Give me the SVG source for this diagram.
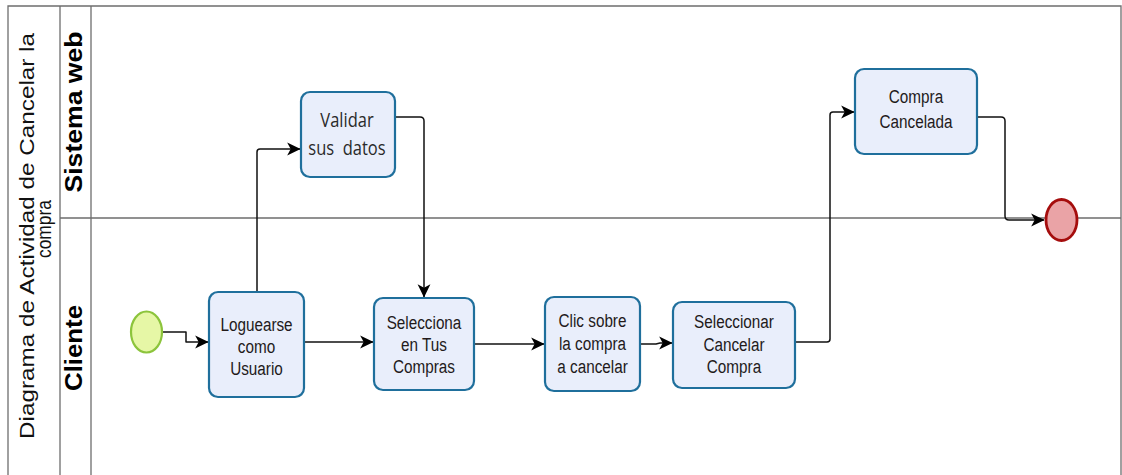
<svg xmlns="http://www.w3.org/2000/svg" width="1122" height="475" viewBox="0 0 1122 475">
<style>
.frame{fill:none;stroke:#6e6e6e;stroke-width:1.3}
.task{fill:#e9eefb;stroke:#1f6f9c;stroke-width:2.2}
.lbl{font-family:"Liberation Sans",Arial,sans-serif;font-size:15.3px;fill:#231a1a;text-anchor:middle}
.lbl2{font-family:"Open Sans","Liberation Sans",sans-serif;font-size:16.5px;fill:#2a2a2a;text-anchor:middle}
.lane{font-family:"Liberation Sans",Arial,sans-serif;font-weight:bold;font-size:24px;fill:#000;text-anchor:middle}
.title{font-family:"Liberation Sans",Arial,sans-serif;font-size:21px;fill:#111;text-anchor:middle}
.conn{fill:none;stroke:#111;stroke-width:1.5;stroke-linejoin:round}
</style>
<defs>
<marker id="arr" markerUnits="userSpaceOnUse" markerWidth="14" markerHeight="14" viewBox="0 0 12 12" refX="11" refY="6" orient="auto">
<path d="M0,0.5 L11.5,6 L0,11.5 L3,6 z" fill="#000"/>
</marker>
</defs>
<rect width="1122" height="475" fill="#fff"/>
<g id="pool">
<path class="frame" d="M8,476 V6 H1121 V476"/>
<path class="frame" d="M60,6 V476 M91,6 V476 M60,218 H1121"/>
<text class="title" transform="translate(34,236) rotate(-90)" textLength="406" lengthAdjust="spacingAndGlyphs">Diagrama de Actividad de Cancelar la</text>
<text class="title" transform="translate(51,229) rotate(-90)" textLength="58" lengthAdjust="spacingAndGlyphs">compra</text>
<text class="lane" transform="translate(82,112) rotate(-90)" textLength="161" lengthAdjust="spacingAndGlyphs">Sistema web</text>
<text class="lane" transform="translate(82,348) rotate(-90)" textLength="86" lengthAdjust="spacingAndGlyphs">Cliente</text>
</g>
<g id="connectors">
<path class="conn" d="M162,332 H186 V342 H208" marker-end="url(#arr)"/>
<path class="conn" d="M257,292 V152 Q257,149 260,149 H300" marker-end="url(#arr)"/>
<path class="conn" d="M395,117 H420 Q424,117 424,121 V297" marker-end="url(#arr)"/>
<path class="conn" d="M304,342 H373" marker-end="url(#arr)"/>
<path class="conn" d="M474,344 H544" marker-end="url(#arr)"/>
<path class="conn" d="M640,344 H656 L660,343 H672" marker-end="url(#arr)"/>
<path class="conn" d="M795,342 H827 Q830,342 830,339 V115 Q830,112 833,112 H854" marker-end="url(#arr)"/>
<path class="conn" d="M977,117 H1001 Q1005,117 1005,121 V216 Q1005,220 1009,220 H1044" marker-end="url(#arr)"/>
</g>
<g id="start"><ellipse cx="146.5" cy="332" rx="15.5" ry="20.5" fill="#e6f7a6" stroke="#8cc43c" stroke-width="2.2"/></g>
<g id="end"><ellipse cx="1061.5" cy="220" rx="15.5" ry="20.5" fill="#eaa3a6" stroke="#a50d0d" stroke-width="2.8"/></g>
<g id="loguearse">
<rect class="task" x="209" y="292" width="95" height="105" rx="9"/>
<text class="lbl" transform="translate(256.5 331) scale(1 1.2)">Loguearse</text>
<text class="lbl" transform="translate(256.5 353) scale(1 1.2)">como</text>
<text class="lbl" transform="translate(256.5 375) scale(1 1.2)">Usuario</text>
</g>
<g id="validar">
<rect class="task" x="301" y="92" width="94" height="85" rx="9"/>
<text class="lbl2" transform="translate(347 127) scale(1 1.25)">Validar</text>
<text class="lbl2" transform="translate(347 155) scale(1 1.25)" xml:space="preserve">sus  datos</text>
</g>
<g id="selecciona">
<rect class="task" x="374" y="298" width="100" height="92" rx="9"/>
<text class="lbl" transform="translate(424 329) scale(1 1.2)">Selecciona</text>
<text class="lbl" transform="translate(424 351) scale(1 1.2)">en Tus</text>
<text class="lbl" transform="translate(424 373) scale(1 1.2)">Compras</text>
</g>
<g id="clic">
<rect class="task" x="545" y="297" width="95" height="94" rx="9"/>
<text class="lbl" transform="translate(592.5 327) scale(1 1.2)">Clic sobre</text>
<text class="lbl" transform="translate(592.5 350) scale(1 1.2)">la compra</text>
<text class="lbl" transform="translate(592.5 373) scale(1 1.2)">a cancelar</text>
</g>
<g id="seleccionar">
<rect class="task" x="673" y="302" width="122" height="86" rx="9"/>
<text class="lbl" transform="translate(734 328) scale(1 1.2)">Seleccionar</text>
<text class="lbl" transform="translate(734 351) scale(1 1.2)">Cancelar</text>
<text class="lbl" transform="translate(734 373) scale(1 1.2)">Compra</text>
</g>
<g id="cancelada">
<rect class="task" x="855" y="69" width="122" height="85" rx="9"/>
<text class="lbl" transform="translate(916 103) scale(1 1.2)">Compra</text>
<text class="lbl" transform="translate(916 128) scale(1 1.2)">Cancelada</text>
</g>
</svg>
